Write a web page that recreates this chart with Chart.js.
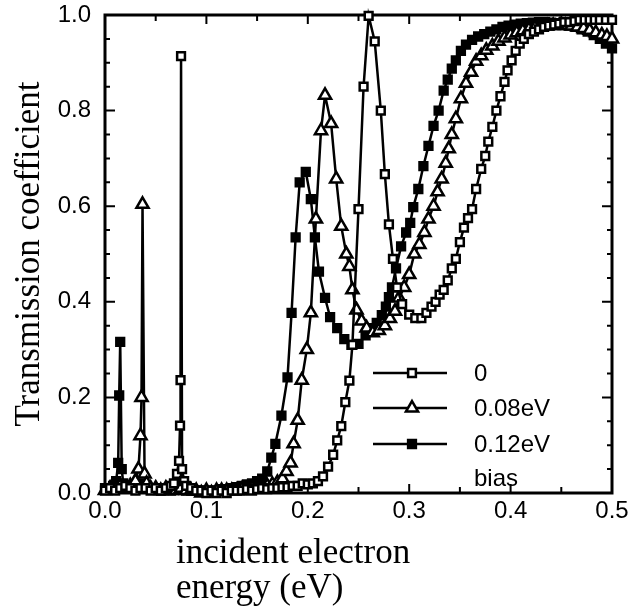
<!DOCTYPE html>
<html>
<head>
<meta charset="utf-8">
<script src="https://cdn.jsdelivr.net/npm/chart.js@4.4.1/dist/chart.umd.min.js"></script>
<style>
  html, body { margin: 0; padding: 0; background: #fff; }
  #wrap { width: 637px; height: 614px; }
</style>
</head>
<body>
<div id="wrap"><canvas id="chart"></canvas></div>
<script>
// bias 0 (open squares)
var zeroX = [0.000, 0.005, 0.010, 0.015, 0.020, 0.025, 0.030, 0.035, 0.040, 0.045, 0.050, 0.055, 0.060, 0.065,
  0.068, 0.071, 0.073, 0.074, 0.0745, 0.075, 0.076, 0.078, 0.080, 0.085, 0.090, 0.095, 0.100, 0.105, 0.110,
  0.115, 0.120, 0.125, 0.130, 0.135, 0.140, 0.145, 0.150, 0.155, 0.160, 0.165, 0.170, 0.175, 0.180, 0.185,
  0.190, 0.195, 0.200, 0.205, 0.210, 0.215, 0.220, 0.225, 0.229, 0.233, 0.237, 0.241, 0.244, 0.250, 0.255,
  0.260, 0.266, 0.272, 0.276, 0.280, 0.284, 0.288, 0.293, 0.300, 0.306, 0.312, 0.317, 0.322, 0.326, 0.330,
  0.334, 0.338, 0.342, 0.346, 0.350, 0.354, 0.358, 0.362, 0.366, 0.371, 0.375, 0.378, 0.382, 0.386, 0.390,
  0.394, 0.397, 0.401, 0.405, 0.409, 0.413, 0.418, 0.423, 0.428, 0.433, 0.438, 0.443, 0.448, 0.453, 0.458,
  0.463, 0.468, 0.473, 0.478, 0.483, 0.488, 0.494, 0.500];
var zeroY = [0.005, 0.010, 0.005, 0.010, 0.015, 0.010, 0.005, 0.010, 0.010, 0.005, 0.010, 0.005, 0.010, 0.015,
  0.020, 0.040, 0.067, 0.141, 0.236, 0.914, 0.050, 0.025, 0.015, 0.010, 0.005, 0.005, 0.000, 0.005, 0.000,
  0.005, 0.000, 0.005, 0.005, 0.005, 0.008, 0.005, 0.008, 0.010, 0.008, 0.010, 0.010, 0.012, 0.012, 0.015,
  0.015, 0.020, 0.018, 0.020, 0.025, 0.035, 0.055, 0.080, 0.110, 0.140, 0.190, 0.235, 0.310, 0.594, 0.850,
  0.998, 0.945, 0.800, 0.667, 0.562, 0.490, 0.430, 0.395, 0.373, 0.366, 0.366, 0.377, 0.390, 0.400, 0.415,
  0.425, 0.445, 0.470, 0.490, 0.525, 0.555, 0.575, 0.594, 0.636, 0.678, 0.705, 0.735, 0.766, 0.800, 0.830,
  0.860, 0.884, 0.905, 0.925, 0.940, 0.950, 0.960, 0.965, 0.970, 0.975, 0.978, 0.980, 0.982, 0.985, 0.985,
  0.987, 0.990, 0.990, 0.990, 0.990, 0.990, 0.990, 0.990];

// bias 0.08 eV (open triangles)
var midX = [0.000, 0.005, 0.010, 0.015, 0.020, 0.025, 0.030, 0.033, 0.035, 0.036, 0.037, 0.039, 0.041, 0.045,
  0.050, 0.055, 0.060, 0.065, 0.070, 0.075, 0.080, 0.085, 0.090, 0.095, 0.100, 0.105, 0.110, 0.115, 0.120,
  0.125, 0.130, 0.135, 0.140, 0.145, 0.150, 0.155, 0.160, 0.165, 0.170, 0.175, 0.179, 0.183, 0.186, 0.190,
  0.194, 0.199, 0.203, 0.208, 0.213, 0.217, 0.223, 0.228, 0.233, 0.238, 0.241, 0.244, 0.248, 0.253, 0.258,
  0.264, 0.270, 0.276, 0.281, 0.286, 0.290, 0.295, 0.300, 0.305, 0.310, 0.315, 0.319, 0.324, 0.328, 0.332,
  0.336, 0.339, 0.342, 0.346, 0.351, 0.356, 0.361, 0.366, 0.371, 0.376, 0.382, 0.388, 0.394, 0.400, 0.406,
  0.412, 0.418, 0.424, 0.430, 0.436, 0.442, 0.448, 0.454, 0.460, 0.466, 0.472, 0.478, 0.484, 0.490, 0.495, 0.500];
var midY = [0.005, 0.010, 0.010, 0.015, 0.010, 0.015, 0.025, 0.050, 0.120, 0.200, 0.604, 0.040, 0.020, 0.010,
  0.010, 0.005, 0.010, 0.005, 0.005, 0.010, 0.005, 0.005, 0.005, 0.000, 0.005, 0.000, 0.005, 0.005, 0.005,
  0.005, 0.005, 0.008, 0.008, 0.010, 0.010, 0.012, 0.015, 0.018, 0.022, 0.030, 0.045, 0.063, 0.103, 0.152,
  0.236, 0.300, 0.377, 0.573, 0.758, 0.832, 0.773, 0.657, 0.558, 0.500, 0.474, 0.425, 0.383, 0.360, 0.345,
  0.335, 0.340, 0.350, 0.365, 0.380, 0.408, 0.430, 0.457, 0.500, 0.520, 0.545, 0.573, 0.600, 0.630, 0.657,
  0.690, 0.720, 0.750, 0.783, 0.825, 0.857, 0.880, 0.903, 0.915, 0.926, 0.935, 0.945, 0.952, 0.958, 0.963,
  0.967, 0.970, 0.973, 0.975, 0.977, 0.978, 0.978, 0.978, 0.977, 0.975, 0.972, 0.968, 0.963, 0.958, 0.955, 0.950];

// bias 0.12 eV (filled squares)
var highX = [0.000, 0.004, 0.008, 0.011, 0.013, 0.014, 0.015, 0.0165, 0.018, 0.022, 0.026, 0.030, 0.035, 0.040,
  0.045, 0.050, 0.055, 0.060, 0.065, 0.070, 0.075, 0.080, 0.085, 0.090, 0.095, 0.100, 0.105, 0.110, 0.115,
  0.120, 0.125, 0.130, 0.135, 0.140, 0.145, 0.150, 0.155, 0.160, 0.164, 0.168, 0.174, 0.180, 0.184, 0.188,
  0.192, 0.198, 0.203, 0.207, 0.211, 0.217, 0.222, 0.229, 0.236, 0.243, 0.250, 0.257, 0.263, 0.268, 0.273,
  0.277, 0.280, 0.283, 0.287, 0.292, 0.297, 0.301, 0.304, 0.309, 0.314, 0.319, 0.324, 0.329, 0.334, 0.338,
  0.342, 0.346, 0.351, 0.356, 0.362, 0.368, 0.374, 0.380, 0.386, 0.392, 0.398, 0.404, 0.410, 0.416, 0.422,
  0.428, 0.434, 0.440, 0.446, 0.452, 0.458, 0.464, 0.470, 0.476, 0.482, 0.488, 0.494, 0.500];
var highY = [0.010, 0.010, 0.015, 0.025, 0.063, 0.204, 0.316, 0.050, 0.020, 0.010, 0.015, 0.010, 0.020, 0.015,
  0.010, 0.010, 0.005, 0.010, 0.005, 0.010, 0.010, 0.005, 0.005, 0.005, 0.005, 0.005, 0.005, 0.005, 0.008,
  0.008, 0.010, 0.012, 0.015, 0.018, 0.020, 0.025, 0.030, 0.045, 0.074, 0.103, 0.162, 0.242, 0.377, 0.535,
  0.650, 0.672, 0.615, 0.535, 0.463, 0.408, 0.368, 0.345, 0.322, 0.310, 0.312, 0.330, 0.345, 0.356, 0.372,
  0.390, 0.410, 0.430, 0.470, 0.516, 0.545, 0.565, 0.598, 0.636, 0.684, 0.726, 0.768, 0.800, 0.842, 0.865,
  0.888, 0.905, 0.925, 0.938, 0.948, 0.955, 0.960, 0.965, 0.970, 0.975, 0.978, 0.980, 0.982, 0.983, 0.984,
  0.985, 0.985, 0.984, 0.983, 0.980, 0.978, 0.975, 0.970, 0.965, 0.958, 0.950, 0.940, 0.930];

var seriesLabels = ['0', '0.08eV', '0.12eV'];
var xTickStep = 0.1;
var yTickStep = 0.2;

function points(xs, ys) {
    return xs.map(function (x, i) { return { x: x, y: ys[i] }; });
}

// draws a marker the way Chart.js does (used by the inset legend)
function marker(ctx, style, x, y, r, fill) {
    ctx.beginPath();
    if (style === 'triangle') {
        var a = 0;
        ctx.moveTo(x + Math.sin(a) * r, y - Math.cos(a) * r);
        a += 2 * Math.PI / 3;
        ctx.lineTo(x + Math.sin(a) * r, y - Math.cos(a) * r);
        a += 2 * Math.PI / 3;
        ctx.lineTo(x + Math.sin(a) * r, y - Math.cos(a) * r);
        ctx.closePath();
    } else {
        var s = Math.SQRT1_2 * r;
        ctx.rect(x - s, y - s, 2 * s, 2 * s);
    }
    ctx.fillStyle = fill;
    ctx.fill();
    ctx.stroke();
}

// frame with inward ticks on all four sides
var frameTicks = {
    id: 'frameTicks',
    beforeDatasetsDraw: function (chart) {
        var ctx = chart.ctx, a = chart.chartArea, xs = chart.scales.x, ys = chart.scales.y;
        ctx.save();
        ctx.strokeStyle = '#000';
        ctx.lineWidth = 3;
        ctx.strokeRect(a.left, a.top, a.right - a.left, a.bottom - a.top);
        ctx.lineWidth = 2;
        ctx.beginPath();
        for (var i = 1; i < 10; i++) {
            var px = xs.getPixelForValue(i * 0.05);
            var lx = i % 2 === 0 ? 9 : 6;
            ctx.moveTo(px, a.bottom); ctx.lineTo(px, a.bottom - lx);
            ctx.moveTo(px, a.top); ctx.lineTo(px, a.top + lx);
        }
        for (var j = 1; j < 20; j++) {
            var py = ys.getPixelForValue(j * 0.05);
            var ly = j % 4 === 0 ? 10 : 5;
            ctx.moveTo(a.left, py); ctx.lineTo(a.left + ly, py);
            ctx.moveTo(a.right, py); ctx.lineTo(a.right - ly, py);
        }
        ctx.stroke();
        ctx.restore();
    }
};

// inset legend + two-line x axis title
var extras = {
    id: 'extras',
    afterDraw: function (chart) {
        var ctx = chart.ctx;
        ctx.save();
        ctx.strokeStyle = '#000';
        ctx.lineWidth = 2.5;
        ctx.fillStyle = '#000';
        ctx.font = '24px "Liberation Sans", Arial, sans-serif';
        ctx.textBaseline = 'middle';
        var rows = [373, 408, 444];
        chart.data.datasets.forEach(function (ds, i) {
            var y = rows[i];
            ctx.beginPath();
            ctx.moveTo(373, y); ctx.lineTo(447, y);
            ctx.stroke();
            marker(ctx, ds.pointStyle, 412, y, ds.pointRadius, ds.pointBackgroundColor);
            ctx.fillStyle = '#000';
            ctx.fillText(ds.label, 474, y + 1);
        });
        ctx.fillText('bias', 474, 479);

        ctx.font = '35px "Liberation Serif", "Times New Roman", serif';
        ctx.textBaseline = 'alphabetic';
        ctx.fillText('incident electron', 176, 563);
        ctx.fillText('energy (eV)', 176, 598);
        ctx.restore();
    }
};

var common = {
    borderColor: '#000', borderWidth: 2.5, pointBorderColor: '#000', pointBorderWidth: 2.5,
    tension: 0, clip: false, fill: false
};

new Chart(document.getElementById('chart').getContext('2d'), {
    type: 'line',
    data: {
        datasets: [
            Object.assign({ label: seriesLabels[0], data: points(zeroX, zeroY), pointStyle: 'rect', pointRadius: 5.5, pointBackgroundColor: '#fff' }, common),
            Object.assign({ label: seriesLabels[1], data: points(midX, midY), pointStyle: 'triangle', pointRadius: 7, pointBackgroundColor: '#fff' }, common),
            Object.assign({ label: seriesLabels[2], data: points(highX, highY), pointStyle: 'rect', pointRadius: 5.5, pointBackgroundColor: '#000' }, common)
        ]
    },
    options: {
        responsive: true, maintainAspectRatio: false, animation: false, devicePixelRatio: 1,
        layout: { padding: { top: 15, right: 25, left: 0, bottom: 0 } },
        plugins: { legend: { display: false }, tooltip: { enabled: false } },
        scales: {
            x: {
                type: 'linear', min: 0, max: 0.5,
                grid: { display: false, drawTicks: false }, border: { display: false },
                ticks: {
                    stepSize: xTickStep, padding: 4, color: '#000',
                    font: { family: '"Liberation Sans", Arial, sans-serif', size: 24 },
                    callback: function (v) { return v.toFixed(1); }
                },
                afterFit: function (s) { s.height = 121; }
            },
            y: {
                type: 'linear', min: 0, max: 1,
                grid: { display: false, drawTicks: false }, border: { display: false },
                ticks: {
                    stepSize: yTickStep, padding: 14, color: '#000',
                    font: { family: '"Liberation Sans", Arial, sans-serif', size: 24 },
                    callback: function (v) { return v.toFixed(1); }
                },
                title: {
                    display: true, text: 'Transmission coefficient', color: '#000',
                    font: { family: '"Liberation Serif", "Times New Roman", serif', size: 35 },
                    padding: { top: 9, bottom: 0 }
                },
                afterFit: function (s) { s.width = 105; s.paddingTop = 0; s.paddingBottom = 0; }
            }
        }
    },
    plugins: [frameTicks, extras]
});
</script>
</body>
</html>
